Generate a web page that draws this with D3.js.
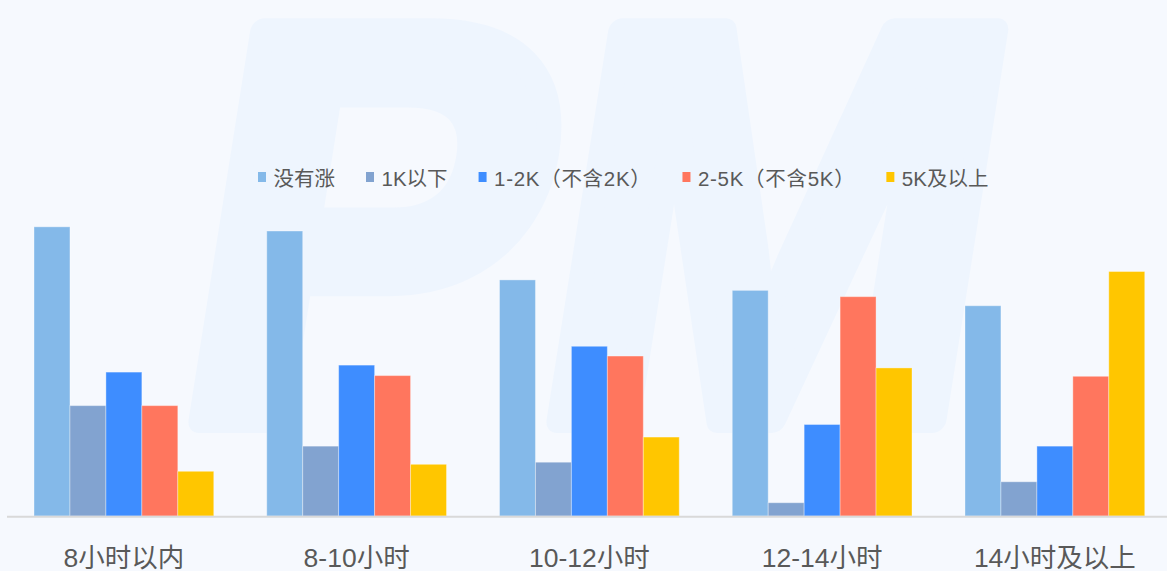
<!DOCTYPE html>
<html>
<head>
<meta charset="utf-8">
<script src="https://cdn.jsdelivr.net/npm/d3@7/dist/d3.min.js"></script>
<style>
  html, body { margin: 0; padding: 0; background: #f6f9fe; }
  svg { display: block; }
  text { font-family: "Liberation Sans", Arial, "Noto Sans CJK SC", sans-serif; }
</style>
</head>
<body>
<svg id="chart" width="1167" height="571"></svg>
<script>
// ---- data ----
const categories = ["8小时以内", "8-10小时", "10-12小时", "12-14小时", "14小时及以上"];
const seriesNames = ["没有涨", "1K以下", "1-2K（不含2K）", "2-5K（不含5K）", "5K及以上"];
const seriesColors = ["#84b9e9", "#82a3d0", "#3e8dff", "#ff765e", "#ffc600"];
const noRaise   = [41.4, 40.8, 33.8, 32.3, 30.1];
const under1K   = [15.8, 10.0, 7.7, 1.9, 4.9];
const k1to2     = [20.6, 21.6, 24.3, 13.1, 10.0];
const k2to5     = [15.8, 20.1, 22.9, 31.4, 20.0];
const k5plus    = [6.4, 7.4, 11.3, 21.2, 35.0];
const seriesValues = [noRaise, under1K, k1to2, k2to5, k5plus];

// ---- layout ----
const W = 1167, H = 571;
const baseY = 516;
const svg = d3.select("#chart");

// background
svg.append("rect").attr("width", W).attr("height", H).attr("fill", "#f6f9fe");

// watermark
svg.append("text")
  .attr("transform", "translate(165,420) skewX(-9) scale(0.95,1)")
  .attr("font-size", 565)
  .attr("font-weight", "bold")
  .attr("fill", "#eef5fe")
  .attr("stroke", "#eef5fe")
  .attr("stroke-width", 26)
  .attr("stroke-linejoin", "round")
  .text("PM");

const x0 = d3.scaleBand().domain(categories)
  .range([7.5, 1171.25]).paddingInner(0.2277).paddingOuter(0.1139);
const x1 = d3.scaleBand().domain(seriesNames).range([0, x0.bandwidth()]);
const y = d3.scaleLinear().domain([0, 45]).range([baseY, baseY - 45 * 6.985]);

// bars
const groups = svg.append("g").selectAll("g")
  .data(categories).join("g")
  .attr("transform", d => `translate(${x0(d)},0)`);

groups.selectAll("rect")
  .data((c, ci) => seriesNames.map((s, si) => ({ s, si, v: seriesValues[si][ci] })))
  .join("rect")
  .attr("x", d => x1(d.s))
  .attr("y", d => y(d.v))
  .attr("width", x1.bandwidth())
  .attr("height", d => baseY - y(d.v))
  .attr("fill", d => seriesColors[d.si])
  .attr("stroke", "rgba(255,255,255,0.35)")
  .attr("stroke-width", 1);

// x axis
const xAxis = svg.append("g").attr("transform", `translate(0,${baseY})`)
  .call(d3.axisBottom(x0).tickSize(0).tickPadding(0));
xAxis.select(".domain").remove();
xAxis.append("line").attr("x1", 7).attr("x2", W).attr("y1", 0.8).attr("y2", 0.8)
  .attr("stroke", "#d9d9d9").attr("stroke-width", 2);
xAxis.selectAll(".tick text")
  .attr("y", 51).attr("dy", 0)
  .attr("font-size", 26.5)
  .attr("fill", "#595959")
  .style("font-family", "\"Liberation Sans\", Arial, \"Noto Sans CJK SC\", sans-serif");

// legend
const legend = svg.append("g");
let lx = 258;
seriesNames.forEach((name, i) => {
  const g = legend.append("g");
  g.append("rect").attr("x", lx).attr("y", 172).attr("width", 8).attr("height", 10)
    .attr("fill", seriesColors[i]);
  const t = g.append("text").attr("x", lx + 15.5).attr("y", 186)
    .attr("font-size", 20.5).attr("fill", "#595959")
    .style("letter-spacing", name.includes("（") ? "0.7px" : "0px")
    .text(name);
  const tw = t.node().getComputedTextLength();
  lx = lx + 15.5 + tw + 31;
});
</script>
</body>
</html>
